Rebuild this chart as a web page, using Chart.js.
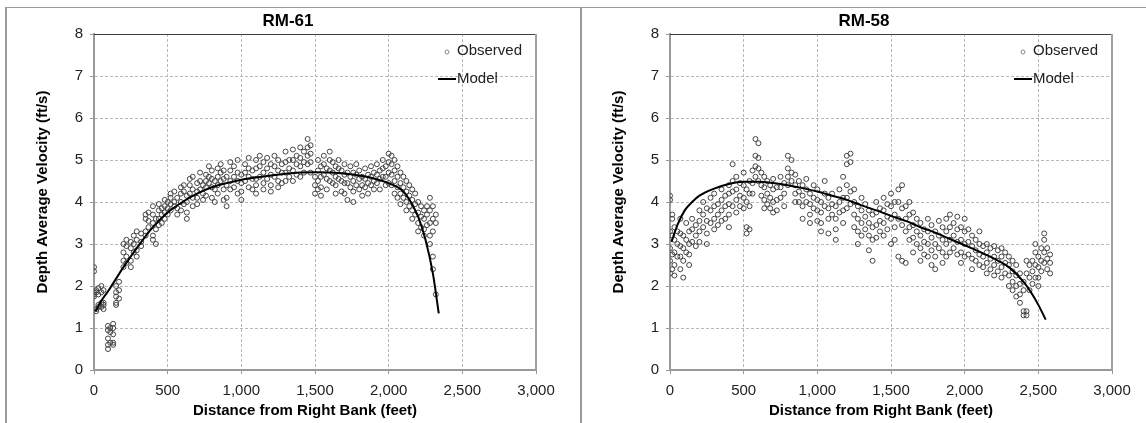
<!DOCTYPE html>
<html>
<head>
<meta charset="utf-8">
<script src="https://cdn.jsdelivr.net/npm/chart.js@4.4.1/dist/chart.umd.min.js"></script>
<style>
body{margin:0;background:#fff;width:1146px;height:423px;overflow:hidden;position:relative}
.rule{position:absolute;background:#9a9a9a}
canvas{position:absolute;top:8px}
</style>
</head>
<body>
<div class="rule" style="left:5px;top:7px;width:1141px;height:1px"></div>
<div class="rule" style="left:5px;top:7px;width:2px;height:416px"></div>
<div class="rule" style="left:580px;top:7px;width:2px;height:416px"></div>
<canvas id="rm61" width="570" height="415" style="left:7px"></canvas>
<canvas id="rm58" width="570" height="415" style="left:583px"></canvas>
<script>
// axis ticks
const distTicks = [0, 500, 1000, 1500, 2000, 2500, 3000];
const velTicks = [0, 1, 2, 3, 4, 5, 6, 7, 8];

// RM-61 observed: distance of each vertical and the velocities read at it
const obs61Dist = [0, 15, 30, 50, 65, 95, 110, 130, 150, 170, 200, 220, 250, 270, 290, 320, 350, 370, 400, 420,
  440, 460, 480, 500, 520, 545, 565, 590, 610, 630, 650, 670, 700, 720, 740, 760, 780, 800, 820, 840,
  860, 880, 900, 925, 950, 975, 1000, 1025, 1050, 1075, 1100, 1125, 1150, 1175, 1200, 1225, 1250, 1275, 1300, 1325,
  1350, 1375, 1400, 1425, 1450, 1470, 1500, 1520, 1540, 1560, 1580, 1600, 1620, 1640, 1660, 1680, 1700, 1720, 1740, 1760,
  1780, 1800, 1820, 1840, 1860, 1880, 1900, 1920, 1940, 1960, 1980, 2000, 2020, 2040, 2060, 2080, 2100, 2120, 2140, 2160,
  2180, 2200, 2220, 2240, 2260, 2280, 2300, 2320];
const obs61Vel = [
  [2.45, 2.35, 1.85, 1.8, 1.75], [1.9, 1.85, 1.4, 1.45], [1.95, 1.8, 1.5, 1.55], [2.0, 1.85, 1.6, 1.5], [1.9, 1.6, 1.55, 1.45],
  [1.05, 0.95, 0.75, 0.6, 0.5], [1.0, 0.9, 0.65], [1.1, 1.0, 0.85, 0.65, 0.6], [2.0, 1.85, 1.75, 1.6, 1.55], [2.1, 1.9, 1.7],
  [2.6, 2.45, 3.0, 2.8], [3.1, 2.95, 2.7, 2.55], [3.05, 2.9, 2.6, 2.45], [3.2, 3.0, 2.8], [3.3, 3.1, 2.85, 2.7],
  [3.25, 3.05, 2.95], [3.7, 3.6, 3.3, 3.2], [3.75, 3.55, 3.4], [3.9, 3.7, 3.5, 3.2, 3.1], [3.6, 3.35, 3.0],
  [3.95, 3.8, 3.6, 3.45], [3.85, 3.7, 3.5], [4.05, 3.9, 3.75, 3.6], [4.0, 3.85, 3.7], [4.2, 4.1, 3.95, 3.8],
  [4.25, 4.0, 3.9], [4.1, 3.85, 3.7], [4.35, 4.2, 4.0, 3.8], [4.4, 4.25, 3.95], [4.15, 4.0, 3.75, 3.6],
  [4.55, 4.4, 4.2], [4.6, 4.3, 4.1, 3.9], [4.45, 4.25, 4.1, 3.95], [4.7, 4.5, 4.3], [4.4, 4.2, 4.05],
  [4.65, 4.5, 4.35, 4.15], [4.85, 4.6, 4.45], [4.75, 4.55, 4.35, 4.1], [4.5, 4.3, 4.0], [4.8, 4.6, 4.4, 4.2],
  [4.9, 4.7, 4.5], [4.75, 4.55, 4.3, 4.05], [4.6, 4.4, 4.1, 3.9], [4.95, 4.75, 4.5, 4.3], [4.85, 4.6, 4.35],
  [5.0, 4.7, 4.5, 4.2], [4.65, 4.45, 4.25, 4.05], [4.9, 4.7, 4.5], [5.05, 4.8, 4.6, 4.35], [4.75, 4.55, 4.3],
  [5.0, 4.8, 4.55, 4.4, 4.2], [5.1, 4.85, 4.6], [4.95, 4.7, 4.45, 4.3], [5.05, 4.8, 4.55], [4.9, 4.65, 4.4, 4.25],
  [5.1, 4.85, 4.6], [5.0, 4.75, 4.5, 4.35], [4.9, 4.7, 4.45], [5.2, 4.95, 4.7, 4.5], [5.0, 4.8, 4.6],
  [5.25, 5.0, 4.75, 4.5], [5.1, 4.9, 4.65], [5.3, 5.05, 4.85, 4.6], [5.2, 4.95, 4.7], [5.5, 5.3, 5.1, 4.9],
  [5.35, 5.15, 4.95, 4.7], [4.6, 4.4, 4.2], [5.0, 4.75, 4.5, 4.3], [4.85, 4.6, 4.35, 4.15], [5.1, 4.9, 4.65],
  [4.8, 4.55, 4.3], [5.2, 5.0, 4.75, 4.5], [4.95, 4.7, 4.45], [4.85, 4.6, 4.4, 4.2], [5.0, 4.8, 4.55],
  [4.75, 4.5, 4.25], [4.9, 4.65, 4.45, 4.2], [4.7, 4.45, 4.05], [4.85, 4.6, 4.35], [4.7, 4.5, 4.25, 4.0],
  [4.9, 4.65, 4.4], [4.75, 4.55, 4.3], [4.6, 4.4, 4.15], [4.8, 4.55, 4.35], [4.65, 4.45, 4.2],
  [4.85, 4.6, 4.4], [4.7, 4.5, 4.3], [4.9, 4.65, 4.45], [4.75, 4.55, 4.3], [5.0, 4.8, 4.6],
  [4.85, 4.6, 4.4], [5.15, 4.95, 4.7, 4.45], [5.1, 4.9, 4.65, 4.4], [5.0, 4.75, 4.5, 4.2], [4.85, 4.6, 4.35, 4.1],
  [4.7, 4.45, 4.2, 3.95], [4.6, 4.35, 4.1], [4.5, 4.25, 4.0, 3.8], [4.4, 4.15, 3.9], [4.3, 4.05, 3.8, 3.6],
  [4.2, 3.95, 3.7], [4.0, 3.75, 3.5, 3.3], [3.9, 3.65, 3.4], [3.8, 3.6, 3.35, 3.2], [3.9, 3.7, 3.45],
  [4.1, 3.8, 3.5, 3.2, 3.0], [3.9, 3.6, 3.3, 2.7, 2.4], [3.7, 3.5, 1.8]
];
const model61Dist = [10, 50, 100, 200, 300, 400, 500, 600, 700, 800, 900, 1000, 1200, 1400, 1500, 1600, 1800, 1900, 2000, 2050, 2100, 2150, 2200, 2250, 2300, 2340];
const model61Vel = [1.4, 1.65, 1.9, 2.45, 2.95, 3.4, 3.75, 4.0, 4.2, 4.35, 4.45, 4.53, 4.63, 4.7, 4.71, 4.7, 4.63, 4.56, 4.45, 4.37, 4.25, 4.0, 3.65, 3.1, 2.3, 1.35];

// RM-58 observed
const obs58Dist = [0, 15, 30, 50, 70, 90, 110, 130, 150, 175, 200, 225, 250, 275, 300, 325, 350, 375, 400, 425,
  450, 475, 500, 520, 540, 560, 580, 600, 620, 640, 660, 680, 700, 725, 750, 775, 800, 825, 850, 875,
  900, 925, 950, 975, 1000, 1025, 1050, 1075, 1100, 1125, 1150, 1175, 1200, 1225, 1250, 1275, 1300, 1325, 1350, 1375,
  1400, 1425, 1450, 1475, 1500, 1525, 1550, 1575, 1600, 1625, 1650, 1675, 1700, 1725, 1750, 1775, 1800, 1825, 1850, 1875,
  1900, 1925, 1950, 1975, 2000, 2025, 2050, 2075, 2100, 2125, 2150, 2175, 2200, 2225, 2250, 2275, 2300, 2325, 2350, 2375,
  2400, 2420, 2440, 2460, 2480, 2500, 2520, 2540, 2560, 2580];
const obs58Vel = [
  [4.15, 4.05, 3.3, 2.9, 2.6, 2.3], [3.7, 3.6, 3.2, 2.75, 2.4], [3.4, 3.1, 2.8, 2.5, 2.25], [3.3, 3.0, 2.7], [3.6, 3.25, 2.95, 2.7, 2.4],
  [3.2, 2.9, 2.6, 2.2], [3.5, 3.1, 2.8], [3.3, 3.0, 2.75, 2.5], [3.6, 3.35, 3.05], [3.45, 3.2, 2.95],
  [3.8, 3.55, 3.3, 3.05], [4.0, 3.7, 3.4], [3.85, 3.55, 3.25, 3.0], [4.1, 3.8, 3.5], [4.2, 3.9, 3.6, 3.35],
  [3.95, 3.7, 3.45], [4.3, 4.05, 3.8, 3.55], [4.15, 3.9, 3.6], [4.4, 4.2, 3.95, 3.7, 3.4], [4.9, 4.5, 4.25, 3.9],
  [4.6, 4.3, 4.05, 3.75], [4.45, 4.15, 3.9], [4.7, 4.4, 4.1, 3.85], [4.3, 4.0, 3.4, 3.25], [4.5, 4.2, 3.9, 3.35],
  [4.75, 4.45, 4.2], [5.5, 5.1, 4.85, 4.6], [5.4, 5.05, 4.8, 4.5], [4.7, 4.4, 4.15], [4.6, 4.35, 4.05, 3.85],
  [4.5, 4.2, 3.95], [4.4, 4.1, 3.85], [4.55, 4.3, 4.0, 3.75], [4.35, 4.05, 3.8], [4.6, 4.35, 4.1],
  [4.45, 4.2, 3.9], [5.1, 4.8, 4.6, 4.4], [5.0, 4.7, 4.5], [4.65, 4.4, 4.2, 4.0], [4.5, 4.25, 4.0],
  [4.4, 4.15, 3.9, 3.6], [4.55, 4.3, 4.0], [4.2, 3.95, 3.7, 3.5], [4.4, 4.1, 3.85], [4.3, 4.05, 3.8, 3.55],
  [4.0, 3.75, 3.5, 3.3], [4.5, 4.2, 3.9], [4.1, 3.85, 3.6, 3.25], [4.2, 3.95, 3.7], [3.9, 3.6, 3.35, 3.1],
  [4.3, 4.0, 3.75], [4.6, 4.1, 3.8, 3.5], [5.1, 4.9, 4.4, 4.1, 3.85], [5.15, 4.95, 4.25, 3.95], [4.3, 4.0, 3.7, 3.4],
  [3.9, 3.6, 3.3, 3.0], [4.1, 3.8, 3.5, 3.2], [3.95, 3.65, 3.35], [3.8, 3.5, 3.2, 2.85], [3.7, 3.4, 3.1, 2.6],
  [4.0, 3.75, 3.45, 3.15], [3.85, 3.55, 3.3], [4.1, 3.8, 3.5, 3.2], [3.95, 3.65, 3.35], [4.2, 3.9, 3.6, 3.0],
  [4.0, 3.7, 3.4, 3.1], [4.3, 4.0, 3.6, 2.7], [4.4, 3.85, 3.45, 2.6], [3.9, 3.6, 3.3, 2.55], [4.0, 3.7, 3.4, 3.1],
  [3.75, 3.45, 3.15, 2.8], [3.6, 3.3, 3.0], [3.5, 3.2, 2.9, 2.6], [3.35, 3.05, 2.75], [3.6, 3.3, 3.0, 2.7],
  [3.45, 3.15, 2.85, 2.5], [3.3, 3.0, 2.7, 2.4], [3.55, 3.2, 2.9], [3.4, 3.1, 2.8, 2.55], [3.6, 3.3, 3.0, 2.7],
  [3.7, 3.4, 3.1, 2.8], [3.5, 3.2, 2.9], [3.65, 3.35, 3.05, 2.75], [3.4, 3.1, 2.8, 2.55], [3.6, 3.3, 3.0, 2.7],
  [3.35, 3.05, 2.75], [3.2, 2.95, 2.65, 2.4], [3.1, 2.85, 2.6], [3.3, 3.0, 2.75, 2.5], [2.95, 2.7, 2.45],
  [3.0, 2.8, 2.55, 2.3], [2.9, 2.65, 2.4], [2.95, 2.7, 2.5, 2.25], [2.85, 2.6, 2.35], [2.9, 2.7, 2.45, 2.2],
  [2.8, 2.55, 2.3], [2.7, 2.5, 2.25, 2.0], [2.6, 2.35, 2.1, 1.9], [2.5, 2.25, 2.0, 1.75], [2.3, 2.05, 1.8, 1.6],
  [2.1, 1.9, 1.4, 1.3], [2.6, 2.3, 1.4, 1.3], [2.5, 2.2, 1.9], [2.6, 2.35, 2.05], [3.0, 2.8, 2.5, 2.2],
  [2.7, 2.45, 2.2, 2.0], [2.9, 2.6, 2.35], [3.25, 3.1, 2.8, 2.55], [2.9, 2.65, 2.4], [2.75, 2.55, 2.3]
];
const model58Dist = [10, 50, 100, 150, 200, 300, 400, 500, 600, 700, 800, 900, 1000, 1100, 1200, 1300, 1400, 1500, 1600, 1700, 1800, 1900, 2000, 2100, 2200, 2300, 2400, 2450, 2500, 2550];
const model58Vel = [3.05, 3.45, 3.8, 4.0, 4.15, 4.32, 4.43, 4.48, 4.48, 4.45, 4.4, 4.33, 4.25, 4.15, 4.05, 3.92, 3.8, 3.67, 3.55, 3.4, 3.27, 3.12, 2.97, 2.82, 2.65, 2.45, 2.1, 1.85, 1.55, 1.2];

Chart.defaults.font.family = '"Liberation Sans", Arial, sans-serif';
Chart.defaults.color = '#222';

// plot frame (top/right), titles and in-plot legend
const extras = {
  id: 'extras',
  afterDraw(chart, args, opts) {
    const ctx = chart.ctx, a = chart.chartArea;
    ctx.save();
    ctx.strokeStyle = '#404040';
    ctx.lineWidth = 1;
    ctx.beginPath();
    ctx.moveTo(a.left, a.top + 0.5);
    ctx.lineTo(a.right, a.top + 0.5);
    ctx.stroke();
    ctx.strokeStyle = '#a0a0a0';
    ctx.lineWidth = 2;
    ctx.beginPath();
    ctx.moveTo(a.right, a.top);
    ctx.lineTo(a.right, a.bottom);
    ctx.stroke();

    ctx.fillStyle = '#000';
    ctx.font = 'bold 17px "Liberation Sans", Arial, sans-serif';
    ctx.textAlign = 'center';
    ctx.textBaseline = 'middle';
    ctx.fillText(opts.title, chart.width / 2 - 4, 13);

    // axis titles
    ctx.font = 'bold 15px "Liberation Sans", Arial, sans-serif';
    ctx.fillText('Distance from Right Bank (feet)', (a.left + a.right) / 2 - 10, 403);
    ctx.save();
    ctx.translate(36, (a.top + a.bottom) / 2 - 10);
    ctx.rotate(-Math.PI / 2);
    ctx.fillText('Depth Average Velocity (ft/s)', 0, 0);
    ctx.restore();

    ctx.font = '15px "Liberation Sans", Arial, sans-serif';
    ctx.textAlign = 'left';
    ctx.fillStyle = '#222';
    ctx.strokeStyle = '#888';
    ctx.lineWidth = 1;
    ctx.beginPath();
    ctx.arc(440, 44, 2, 0, Math.PI * 2);
    ctx.stroke();
    ctx.fillText('Observed', 450, 43);
    ctx.strokeStyle = '#000';
    ctx.lineWidth = 2;
    ctx.beginPath();
    ctx.moveTo(431, 71);
    ctx.lineTo(449, 71);
    ctx.stroke();
    ctx.fillText('Model', 450, 71);
    ctx.restore();
  }
};

function toPoints(dist, vel) {
  return dist.map((d, i) => ({x: d, y: vel[i]}));
}

function toObserved(dist, cols) {
  return dist.flatMap((d, i) => cols[i].map(v => ({x: d, y: v})));
}

function renderPanel(id, title, observed, model) {
  new Chart(document.getElementById(id), {
    type: 'scatter',
    data: {
      datasets: [{
        label: 'Model',
        data: model,
        showLine: true,
        borderColor: '#000',
        borderWidth: 2,
        pointRadius: 0,
        cubicInterpolationMode: 'monotone',
        order: 0
      }, {
        label: 'Observed',
        data: observed,
        pointRadius: 2.5,
        pointBorderWidth: 1,
        borderColor: '#444',
        backgroundColor: 'rgba(0,0,0,0)',
        order: 1
      }]
    },
    options: {
      responsive: false,
      animation: false,
      devicePixelRatio: 1,
      layout: {padding: {left: 0, top: 26, right: 41, bottom: 0}},
      plugins: {legend: {display: false}, tooltip: {enabled: false}, extras: {title: title}},
      scales: {
        x: {
          min: 0, max: 3000,
          afterBuildTicks: s => { s.ticks = distTicks.map(v => ({value: v})); },
          afterFit: s => { s.height = 53; },
          ticks: {font: {size: 15}, padding: 8, maxRotation: 0, callback: v => v.toLocaleString('en-US')},
          grid: {color: '#b8b8b8', tickColor: '#999', tickLength: 4},
          border: {color: '#999', width: 2, dash: [3, 2]}
        },
        y: {
          min: 0, max: 8,
          afterBuildTicks: s => { s.ticks = velTicks.map(v => ({value: v})); },
          afterFit: s => { s.width = 87; },
          ticks: {font: {size: 15}, padding: 7},
          grid: {color: '#b8b8b8', tickColor: '#999', tickLength: 4},
          border: {color: '#999', width: 2, dash: [3, 2]}
        }
      }
    },
    plugins: [extras]
  });
}

renderPanel('rm61', 'RM-61', toObserved(obs61Dist, obs61Vel), toPoints(model61Dist, model61Vel));
renderPanel('rm58', 'RM-58', toObserved(obs58Dist, obs58Vel), toPoints(model58Dist, model58Vel));
</script>
</body>
</html>
